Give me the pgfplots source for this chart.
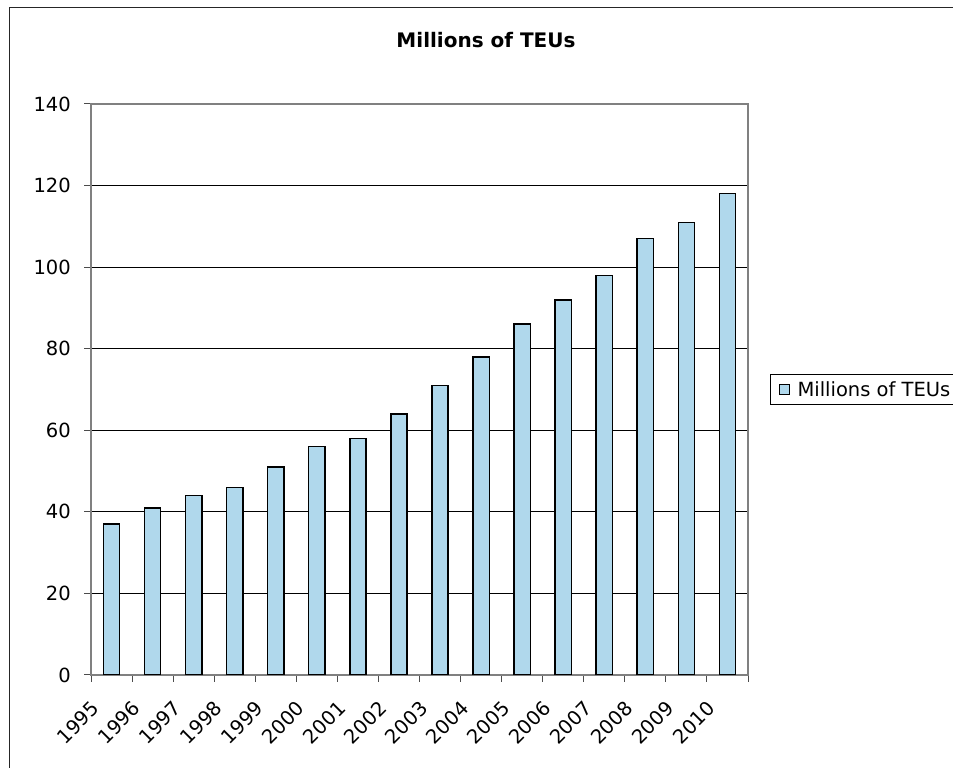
\documentclass[border=0pt]{standalone}
\usepackage{fontspec}
\setmainfont{DejaVu Sans}
\usepackage{pgfplots}
\pgfplotsset{compat=1.18}
\definecolor{barblue}{RGB}{176,216,236}
\definecolor{framegray}{RGB}{128,128,128}
\begin{document}
\begin{tikzpicture}[x=1bp,y=1bp,font=\fontsize{19.5bp}{23bp}\selectfont]
\useasboundingbox (0,0) rectangle (953,768);
% chart area frame
\draw[line width=1bp, black!85] (9.5,-20) rectangle (990,760.5);
\begin{axis}[
  at={(91bp,93bp)}, anchor=south west,
  scale only axis, width=657bp, height=571bp,
  xmin=-0.5, xmax=15.5, ymin=0, ymax=140,
  ytick={0,20,...,140},
  xtick={0,...,15},
  xticklabels={1995,1996,1997,1998,1999,2000,2001,2002,2003,2004,2005,2006,2007,2008,2009,2010},
  minor xtick={-0.5,0.5,...,15.5},
  major x tick style={draw=none},
  xtick pos=bottom, ytick pos=left,
  tick align=outside,
  major tick length=7bp, minor tick length=7bp,
  ymajorgrids, grid style={black, line width=0.8bp},
  axis line style={framegray, line width=1.3bp},
  tick style={black!70, line width=1bp},
  /pgf/number format/assume math mode=true,
  yticklabel style={anchor=east, inner sep=0pt, xshift=-13bp},
  xticklabel style={inner sep=0pt, anchor=east, xshift=-16bp, yshift=-23bp, rotate=45},
  xticklabel shift=0pt,
  legend style={at={(1.0335,0.5)}, anchor=west, draw=black, line width=1bp,
    inner xsep=7bp, inner ysep=5bp, nodes={inner sep=1.5bp},
    font=\fontsize{19.5bp}{23bp}\selectfont},
  legend image code/.code={\draw[#1, draw=black, line width=1.3bp] (0bp,-5bp) rectangle (10bp,5bp); \path (-1bp,0bp) (16bp,0bp);},
  legend cell align=left,
]
\addplot[ybar, bar width=16.3bp, fill=barblue, draw=black, line width=1.5bp] coordinates {
  (0,37) (1,41) (2,44) (3,46) (4,51) (5,56) (6,58) (7,64)
  (8,71) (9,78) (10,86) (11,92) (12,98) (13,107) (14,111) (15,118)
};
\addlegendentry{Millions of TEUs}
\draw[framegray, line width=1.3bp] (rel axis cs:0,1) -- (rel axis cs:1,1) -- (rel axis cs:1,0);
\end{axis}
\node[anchor=base, font=\fontsize{20bp}{24bp}\selectfont\bfseries] at (486,720.7) {Millions of TEUs};
\end{tikzpicture}
\end{document}
